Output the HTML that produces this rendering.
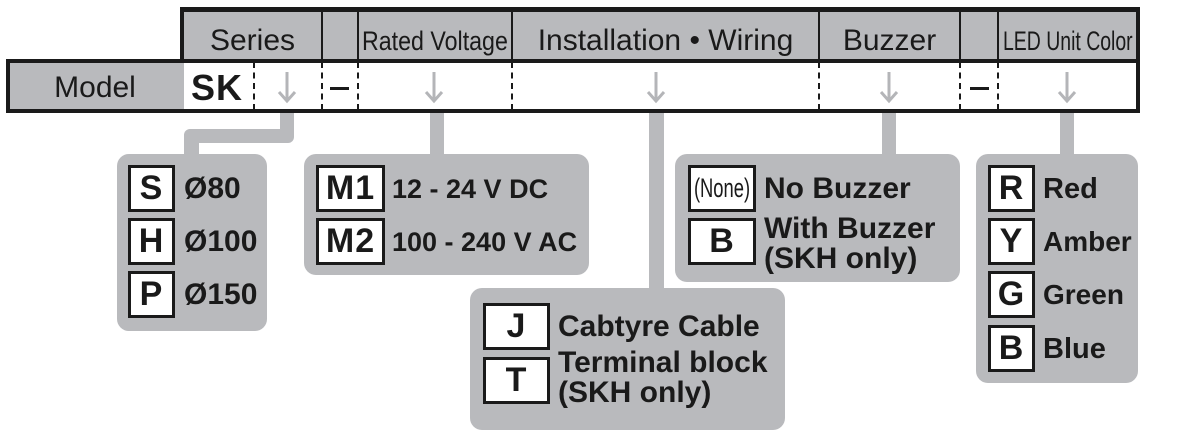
<!DOCTYPE html>
<html><head><meta charset="utf-8"><style>
*{margin:0;padding:0;box-sizing:border-box}
body{width:1192px;height:447px;background:#fff;position:relative;overflow:hidden;font-family:"Liberation Sans",Arial,sans-serif;color:#1a1a1a}
.a{position:absolute}
.g{background:#b9babd}
.k{background:#1a1a1a}
.h{position:absolute;top:12px;height:47px;font-size:30px;line-height:58px;text-align:center;white-space:nowrap}
.hs{position:absolute;top:12px;font-size:27px;line-height:58px;white-space:nowrap;transform-origin:left center}
.dash{position:absolute;top:62px;height:48px;border-left:2px dashed #1a1a1a}
.box{position:absolute;background:#b9babd;border-radius:12px}
.code{position:absolute;background:#fff;border:3px solid #1a1a1a;font-weight:bold;font-size:34px;text-align:center;line-height:41px;letter-spacing:1px}
.t{position:absolute;font-weight:bold;font-size:30px;line-height:30px;white-space:nowrap}
.bar{position:absolute;background:#b9babd}
</style></head><body>
<!-- header row -->
<div class="a g" style="left:180px;top:7px;width:960px;height:54px"></div>
<div class="a k" style="left:180px;top:7px;width:960px;height:5px"></div>
<div class="a k" style="left:180px;top:7px;width:4px;height:106px"></div>
<div class="a k" style="left:1136px;top:7px;width:4px;height:106px"></div>
<div class="a k" style="left:321px;top:12px;width:2px;height:47px"></div>
<div class="a k" style="left:357px;top:12px;width:2px;height:47px"></div>
<div class="a k" style="left:511px;top:12px;width:2px;height:47px"></div>
<div class="a k" style="left:818px;top:12px;width:2px;height:47px"></div>
<div class="a k" style="left:959px;top:12px;width:2px;height:47px"></div>
<div class="a k" style="left:997px;top:12px;width:2px;height:47px"></div>
<div class="h" style="left:184px;width:137px">Series</div>
<div class="hs" style="left:362px;transform:scaleX(0.86)">Rated Voltage</div>
<div class="h" style="left:513px;width:305px">Installation • Wiring</div>
<div class="h" style="left:820px;width:139px">Buzzer</div>
<div class="hs" style="left:1003px;transform:scaleX(0.72)">LED Unit Color</div>
<!-- model row -->
<div class="a g" style="left:6px;top:59px;width:178px;height:54px"></div>
<div class="a k" style="left:6px;top:59px;width:1134px;height:4px"></div>
<div class="a k" style="left:6px;top:109px;width:1134px;height:4px"></div>
<div class="a k" style="left:6px;top:59px;width:4px;height:54px"></div>
<div class="a" style="left:10px;top:63px;width:170px;height:46px;font-size:30px;line-height:50px;text-align:center">Model</div>
<div class="a" style="left:191px;top:63px;font-size:36px;font-weight:bold;letter-spacing:1px;line-height:50px">SK</div>
<div class="dash" style="left:253px"></div>
<div class="dash" style="left:321px"></div>
<div class="dash" style="left:357px"></div>
<div class="dash" style="left:511px"></div>
<div class="dash" style="left:818px"></div>
<div class="dash" style="left:959px"></div>
<div class="dash" style="left:997px"></div>
<div class="a k" style="left:330px;top:87px;width:19px;height:3px"></div>
<div class="a k" style="left:970px;top:87px;width:19px;height:3px"></div>
<svg class="a" style="left:0;top:0" width="1192" height="120">
<g stroke="#b4b5b8" stroke-width="3" fill="none">
<path d="M287 72V101M279 92L287 101L295 92"/>
<path d="M434 72V101M426 92L434 101L442 92"/>
<path d="M656 72V101M648 92L656 101L664 92"/>
<path d="M889 72V101M881 92L889 101L897 92"/>
<path d="M1067 72V101M1059 92L1067 101L1075 92"/>
</g></svg>
<!-- connectors -->
<div class="bar" style="left:280px;top:113px;width:14px;height:24px;border-radius:0 0 6px 0"></div>
<div class="bar" style="left:184px;top:129px;width:110px;height:14px;border-radius:6px 0 6px 0"></div>
<div class="bar" style="left:184px;top:135px;width:15px;height:22px"></div>
<div class="bar" style="left:430px;top:113px;width:14px;height:43px"></div>
<div class="bar" style="left:649px;top:113px;width:15px;height:177px"></div>
<div class="bar" style="left:882px;top:113px;width:14px;height:43px"></div>
<div class="bar" style="left:1060px;top:113px;width:14px;height:43px"></div>
<!-- box 1 -->
<div class="box" style="left:117px;top:154px;width:150px;height:177px"></div>
<div class="code" style="left:128px;top:165px;width:47px;height:47px">S</div>
<div class="code" style="left:128px;top:218px;width:47px;height:47px">H</div>
<div class="code" style="left:128px;top:271px;width:47px;height:47px">P</div>
<div class="t" style="left:184px;top:174px">Ø80</div>
<div class="t" style="left:184px;top:227px">Ø100</div>
<div class="t" style="left:184px;top:280px">Ø150</div>
<!-- box 2 -->
<div class="box" style="left:304px;top:154px;width:285px;height:121px"></div>
<div class="code" style="left:316px;top:165px;width:69px;height:47px">M1</div>
<div class="code" style="left:316px;top:218px;width:69px;height:47px">M2</div>
<div class="t" style="left:392px;top:174px;font-size:27px">12 - 24 V DC</div>
<div class="t" style="left:392px;top:227px;font-size:27px">100 - 240 V AC</div>
<!-- box 3 -->
<div class="box" style="left:470px;top:288px;width:315px;height:142px"></div>
<div class="code" style="left:483px;top:303px;width:67px;height:47px">J</div>
<div class="code" style="left:483px;top:357px;width:67px;height:47px">T</div>
<div class="t" style="left:558px;top:312px">Cabtyre Cable</div>
<div class="t" style="left:558px;top:348px">Terminal block<br>(SKH only)</div>
<!-- box 4 -->
<div class="box" style="left:675px;top:154px;width:285px;height:128px"></div>
<div class="code" style="left:688px;top:165px;width:68px;height:47px;font-weight:normal;font-size:27px;letter-spacing:0;overflow:hidden"><span style="position:absolute;left:50%;top:0;white-space:nowrap;transform:translateX(-50%) scaleX(0.68)">(None)</span></div>
<div class="code" style="left:688px;top:218px;width:68px;height:47px">B</div>
<div class="t" style="left:764px;top:174px">No Buzzer</div>
<div class="t" style="left:764px;top:214px">With Buzzer<br>(SKH only)</div>
<!-- box 5 -->
<div class="box" style="left:976px;top:154px;width:162px;height:229px"></div>
<div class="code" style="left:988px;top:165px;width:47px;height:47px">R</div>
<div class="code" style="left:988px;top:218px;width:47px;height:47px">Y</div>
<div class="code" style="left:988px;top:271px;width:47px;height:47px">G</div>
<div class="code" style="left:988px;top:325px;width:47px;height:47px">B</div>
<div class="t" style="left:1043px;top:174px;font-size:29px">Red</div>
<div class="t" style="left:1043px;top:227px;font-size:28px">Amber</div>
<div class="t" style="left:1043px;top:280px;font-size:28px">Green</div>
<div class="t" style="left:1043px;top:334px;font-size:29px">Blue</div>
</body></html>
